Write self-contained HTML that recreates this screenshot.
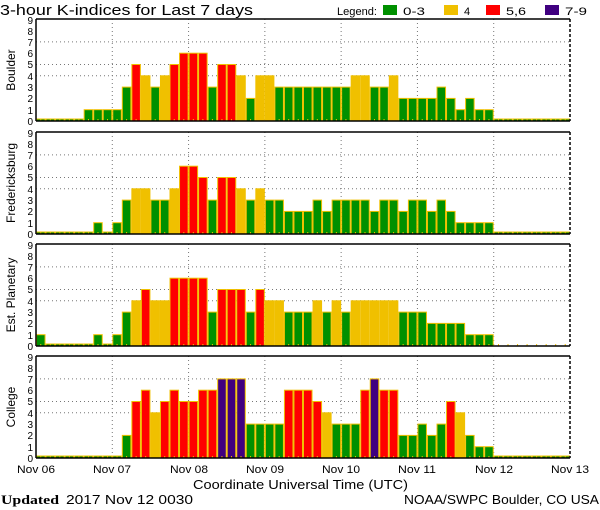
<!DOCTYPE html>
<html><head><meta charset="utf-8"><style>
html,body{margin:0;padding:0;background:#fff;}
svg{display:block;font-family:"Liberation Sans",sans-serif;}
</style></head><body>
<svg id="s" width="600" height="510" viewBox="0 0 600 510" xmlns="http://www.w3.org/2000/svg">
<rect width="600" height="510" fill="#fff"/>
<text x="0" y="15" font-size="15" fill="#000" textLength="253" lengthAdjust="spacingAndGlyphs">3-hour K-indices for Last 7 days</text>
<text x="337" y="15" font-size="11" fill="#000" textLength="40" lengthAdjust="spacingAndGlyphs">Legend:</text>
<rect x="383" y="5" width="14" height="10" fill="#009000"/>
<text x="403" y="15" font-size="11" textLength="22" lengthAdjust="spacingAndGlyphs">0-3</text>
<rect x="444" y="5" width="14" height="10" fill="#f0c000"/>
<text x="464" y="15" font-size="11">4</text>
<rect x="486" y="5" width="14" height="10" fill="#ff0000"/>
<text x="506" y="15" font-size="11" textLength="20" lengthAdjust="spacingAndGlyphs">5,6</text>
<rect x="545" y="5" width="14" height="10" fill="#400080"/>
<text x="565" y="15" font-size="11" textLength="22" lengthAdjust="spacingAndGlyphs">7-9</text>
<g id="panels"></g>
<g font-size="12" text-anchor="middle" fill="#000">
<text x="15" y="70" transform="rotate(-90 15 70)">Boulder</text>
<text x="15" y="183" transform="rotate(-90 15 183)">Fredericksburg</text>
<text x="15" y="295" transform="rotate(-90 15 295)">Est. Planetary</text>
<text x="15" y="407" transform="rotate(-90 15 407)">College</text>
</g>
<g font-size="10" text-anchor="end" fill="#000">
<text x="33" y="125">0</text><text x="33" y="114">1</text><text x="33" y="102">2</text><text x="33" y="91">3</text><text x="33" y="80">4</text><text x="33" y="68">5</text><text x="33" y="57">6</text><text x="33" y="46">7</text><text x="33" y="35">8</text><text x="33" y="24">9</text>
<text x="33" y="238">0</text><text x="33" y="227">1</text><text x="33" y="215">2</text><text x="33" y="204">3</text><text x="33" y="193">4</text><text x="33" y="181">5</text><text x="33" y="170">6</text><text x="33" y="159">7</text><text x="33" y="148">8</text><text x="33" y="137">9</text>
<text x="33" y="350">0</text><text x="33" y="339">1</text><text x="33" y="327">2</text><text x="33" y="316">3</text><text x="33" y="305">4</text><text x="33" y="293">5</text><text x="33" y="282">6</text><text x="33" y="271">7</text><text x="33" y="260">8</text><text x="33" y="249">9</text>
<text x="33" y="462">0</text><text x="33" y="451">1</text><text x="33" y="439">2</text><text x="33" y="428">3</text><text x="33" y="417">4</text><text x="33" y="405">5</text><text x="33" y="394">6</text><text x="33" y="383">7</text><text x="33" y="372">8</text><text x="33" y="361">9</text>
</g>
<g font-size="11" fill="#000">
<text x="17" y="473" textLength="38" lengthAdjust="spacingAndGlyphs">Nov 06</text>
<text x="93" y="473" textLength="38" lengthAdjust="spacingAndGlyphs">Nov 07</text>
<text x="170" y="473" textLength="38" lengthAdjust="spacingAndGlyphs">Nov 08</text>
<text x="246" y="473" textLength="38" lengthAdjust="spacingAndGlyphs">Nov 09</text>
<text x="322" y="473" textLength="38" lengthAdjust="spacingAndGlyphs">Nov 10</text>
<text x="398" y="473" textLength="38" lengthAdjust="spacingAndGlyphs">Nov 11</text>
<text x="475" y="473" textLength="38" lengthAdjust="spacingAndGlyphs">Nov 12</text>
<text x="551" y="473" textLength="38" lengthAdjust="spacingAndGlyphs">Nov 13</text>
<text x="193" y="489" font-size="13" textLength="215" lengthAdjust="spacingAndGlyphs">Coordinate Universal Time (UTC)</text>
</g>
<text x="1" y="504" font-size="13" font-family="Liberation Serif,serif" font-weight="bold" textLength="58" lengthAdjust="spacingAndGlyphs">Updated</text>
<text x="66" y="504" font-size="13" textLength="127" lengthAdjust="spacingAndGlyphs">2017 Nov 12 0030</text>
<text x="404" y="504" font-size="13" textLength="195" lengthAdjust="spacingAndGlyphs">NOAA/SWPC Boulder, CO USA</text>
</svg>
<script>
var D=[
[0,0,0,0,0,1,1,1,1,3,5,4,3,4,5,6,6,6,3,5,5,4,2,4,4,3,3,3,3,3,3,3,3,4,4,3,3,4,2,2,2,2,3,2,1,2,1,1,0,0,0,0,0,0,0,0],
[0,0,0,0,0,0,1,0,1,3,4,4,3,3,4,6,6,5,3,5,5,4,3,4,3,3,2,2,2,3,2,3,3,3,3,2,3,3,2,3,3,2,3,2,1,1,1,1,0,0,0,0,0,0,0,0],
[1,0,0,0,0,0,1,0,1,3,4,5,4,4,6,6,6,6,3,5,5,5,3,5,4,4,3,3,3,4,3,4,3,4,4,4,4,4,3,3,3,2,2,2,2,1,1,1,-1,-1,-1,-1,-1,-1,-1,-1],
[0,0,0,0,0,0,0,0,0,2,5,6,4,5,6,5,5,6,6,7,7,7,3,3,3,3,6,6,6,5,4,3,3,3,6,7,6,6,2,2,3,2,3,5,4,2,1,1,0,0,0,0,0,0,0,0]];
var tops=[19,132,244,356],H=102,L=36,R=570,U=11.3,bw=(R-L)/56;
var g=document.getElementById('panels'),h='';
function col(v){return v<=3?'#009000':v==4?'#f0c000':v<=6?'#ff0000':'#400080';}
for(var p=0;p<4;p++){var t=tops[p],b=t+H;
 h+='<rect x="'+L+'" y="'+t+'" width="'+(R-L)+'" height="'+H+'" fill="#fff"/>';
 [4,5,7].forEach(function(k){var y=b-k*U;h+='<line x1="'+L+'" x2="'+R+'" y1="'+y+'" y2="'+y+'" stroke="#777" stroke-dasharray="1,3"/>';});
 for(var d=1;d<7;d++){var x=L+d*(R-L)/7;h+='<line x1="'+x+'" x2="'+x+'" y1="'+t+'" y2="'+b+'" stroke="#777" stroke-dasharray="1,3"/>';}
 for(var i=0;i<56;i++){var v=D[p][i],x=L+i*bw;
  if(v>=0){var hh=v==0?2:v*U;h+='<rect x="'+(x+0.5)+'" y="'+(b-hh)+'" width="'+(bw-1)+'" height="'+hh+'" fill="'+col(v)+'" stroke="#f0c000" stroke-width="1"/>';}
  h+='<line x1="'+(x+bw/2)+'" x2="'+(x+bw/2)+'" y1="'+(b-2)+'" y2="'+b+'" stroke="#f0c000"/>';}
 h+='<line x1="'+L+'" x2="'+R+'" y1="'+t+'" y2="'+t+'" stroke="#000" stroke-width="1.5"/>';
 h+='<line x1="'+L+'" x2="'+R+'" y1="'+b+'" y2="'+b+'" stroke="#000" stroke-width="1.5"/>';
 h+='<line x1="'+L+'" x2="'+L+'" y1="'+t+'" y2="'+b+'" stroke="#000" stroke-width="1.5"/>';
 h+='<line x1="'+R+'" x2="'+R+'" y1="'+t+'" y2="'+b+'" stroke="#000" stroke-width="1.5" stroke-dasharray="3,2"/>';
}
g.innerHTML=h;
</script>
</body></html>
